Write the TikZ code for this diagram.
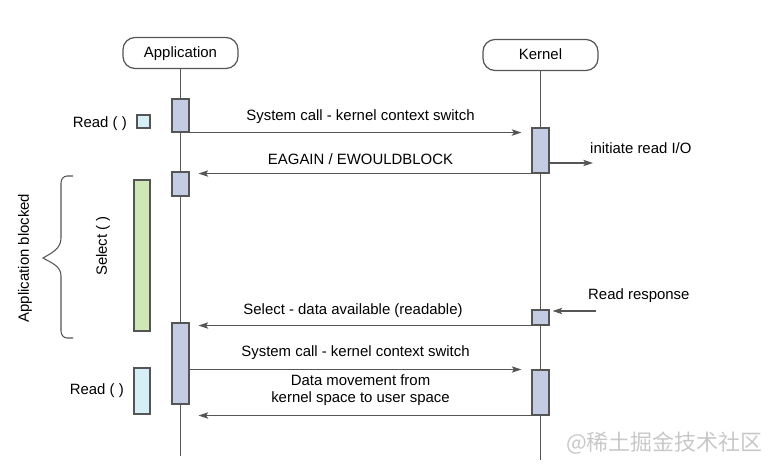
\documentclass[tikz,border=0pt]{standalone}
\usepackage{fontspec}
\setmainfont{Liberation Sans}
\newfontfamily\cjkfont{Noto Sans CJK SC}
\usepackage{xcolor}
\usepackage{tikz}
\usetikzlibrary{arrows.meta, positioning}
\definecolor{actblue}{RGB}{196, 204, 228}
\definecolor{readblue}{RGB}{214, 238, 245}
\definecolor{selgreen}{RGB}{205, 232, 180}
\definecolor{linecol}{RGB}{85, 85, 85}
\definecolor{markgray}{RGB}{200, 200, 200}
\tikzset{
    actor/.style={
        rectangle,
        rounded corners=0.24cm,
        minimum width=2.3cm,
        minimum height=0.62cm,
        text height=0.72em,
        text depth=0.22em,
        draw=linecol,
        line width=0.7pt
    },
    lifeline/.style={
        draw=linecol,
        line width=0.6pt
    },
    act/.style={
        rectangle,
        draw=linecol,
        fill=actblue,
        line width=0.6pt,
        minimum width=0.34cm,
        inner sep=0pt
    },
    callbox/.style={
        rectangle,
        draw=linecol,
        fill=readblue,
        line width=0.6pt,
        inner sep=0pt
    },
    arrow/.style={
        draw=linecol,
        line width=0.6pt,
        -{Stealth[length=5.5pt, width=3.6pt, inset=1.2pt]}
    },
    msg/.style={
        align=center
    },
    bracket/.style={
        draw=linecol,
        line width=0.6pt
    }
}

\begin{document}
\begin{tikzpicture}[x=0.02cm, y=-0.02cm, font=\fontsize{8.5}{9.8}\selectfont]
        \path[use as bounding box] (0,0) rectangle (778,471);

        % --- actors and lifelines ---
        \node (app) [actor] at (180.5,53) {Application};
        \node (kern) [actor] at (540.5,55) {Kernel};
        \coordinate (aend) at (180.5,456);
        \coordinate (kend) at (540.5,460);
        \draw [lifeline] (app) -- (aend);
        \draw [lifeline] (kern) -- (kend);

        % --- activation boxes ---
        \node (a1) [act, minimum height=0.66cm] at (180.5,115.5) {};
        \node (a2) [act, minimum height=0.48cm] at (180.5,184) {};
        \node (a3) [act, minimum height=1.62cm] at (180.5,363.5) {};
        \node (k1) [act, minimum height=0.9cm] at (540.5,150.5) {};
        \node (k2) [act, minimum height=0.3cm] at (540.5,317.5) {};
        \node (k3) [act, minimum height=0.9cm] at (540.5,392.5) {};

        % --- application side ---
        \node (rd1) [callbox, minimum width=0.26cm, minimum height=0.26cm] at (143.5,121.5) {};
        \node (rd1lbl) [left=0.07cm of rd1, yshift=-1pt] {Read ( )};
        \node (sel) [callbox, fill=selgreen, minimum width=0.32cm, minimum height=3.02cm] at (142,255.5) {};
        \node (sellbl) [rotate=90] at (103,246) {Select ( )};
        \node (rd2) [callbox, minimum width=0.32cm, minimum height=0.92cm] at (142,391) {};
        \node (rd2lbl) [left=0.07cm of rd2] {Read ( )};

        % brace drawn by hand: straight sides, pointed middle
        \draw [bracket] (73,176) -- (67,176) to[out=180, in=90] (61,183) -- (61,238)
            to[out=270, in=30] (43,258) to[out=-30, in=90] (61,276) -- (61,331)
            to[out=270, in=180] (67,338) -- (73,338);
        \node (blocked) [rotate=90] at (25,258) {Application blocked};

        % --- messages ---
        \draw [arrow, shorten >=0.2cm] (a1.south east) -- node[msg, above=1.5pt] {System call - kernel context switch} (a1.south east -| k1.west);
        \draw [arrow, shorten >=0.18cm] (k1.south west) -- node[msg, above=1.5pt] {EAGAIN / EWOULDBLOCK} (k1.south west -| a2.east);

        \coordinate (io) at (593,163);
        \draw [arrow] (k1.east |- io) -- (io);
        \node (iolbl) [anchor=west] at (584,148) {initiate read I/O};

        \coordinate (rr) at (596,311);
        \draw [arrow, shorten >=0.06cm] (rr) -- (rr -| k2.east);
        \node (rrlbl) [anchor=west] at (582,296) {Read response};

        \draw [arrow, shorten >=0.18cm] (k2.south west) -- node[msg, above=1pt, xshift=-0.15cm] {Select - data available (readable)} (k2.south west -| a3.east);
        \draw [arrow, shorten >=0.2cm] (a3.east |- k3.north) -- node[msg, above=2pt, xshift=-0.1cm] {System call - kernel context switch} (k3.north west);
        \draw [arrow, shorten >=0.18cm] (k3.south west) -- node[msg, above=2pt] {Data movement from\\kernel space to user space} (k3.south west -| a3.east);

        % --- watermark ---
        \node (mark) [anchor=west, text=markgray, font=\cjkfont\fontsize{12.5}{14}\selectfont] at (560,443) {@稀土掘金技术社区};
\end{tikzpicture}
\end{document}
